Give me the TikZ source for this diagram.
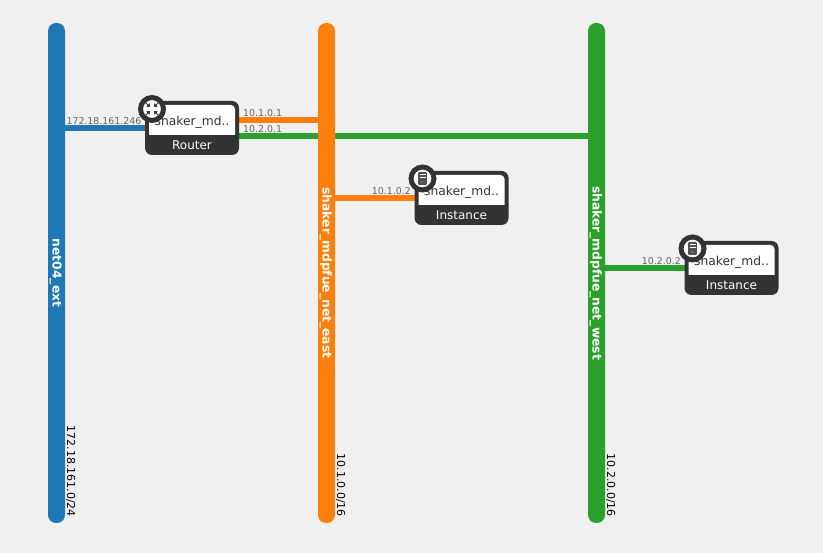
\documentclass[tikz,border=0pt]{standalone}
\usepackage{fontspec}
\setmainfont{DejaVu Sans}
\usetikzlibrary{backgrounds,arrows.meta}
\definecolor{netblue}{HTML}{1F77B4}
\definecolor{netorange}{HTML}{FF7F0E}
\definecolor{netgreen}{HTML}{2CA02C}
\definecolor{carddark}{HTML}{333333}
\definecolor{pagegray}{HTML}{F0F0F0}
\definecolor{iptext}{HTML}{666666}
\tikzset{
	netbar/.style={rounded corners=8pt,minimum width=17pt,minimum height=500pt,inner sep=0pt},
	netname/.style={rotate=-90,text=white,inner sep=0pt,font=\fontsize{12.3}{13}\selectfont\bfseries},
	cidr/.style={rotate=-90,anchor=south east,inner sep=0pt,font=\fontsize{11}{12}\selectfont,text=black},
	link/.style={line width=6pt},
	iplabel/.style={inner sep=0pt,font=\fontsize{9.4}{10}\selectfont,text=iptext},
	card/.style={fill=carddark,rounded corners=7pt,minimum width=94pt,minimum height=54pt,inner sep=0pt,
		path picture={\fill[white] ([xshift=4pt,yshift=20pt]path picture bounding box.south west) [rounded corners=4pt] |- ([xshift=-4pt,yshift=-4pt]path picture bounding box.north east) [sharp corners] |- cycle;}},
	cardname/.style={inner sep=0pt,font=\fontsize{12.3}{13}\selectfont,text=carddark},
	cardtype/.style={inner sep=0pt,font=\fontsize{12}{13}\selectfont,text=white},
	badge/.style={circle,draw=carddark,line width=5pt,fill=white,minimum size=23pt,inner sep=0pt},
}
\begin{document}
\begin{tikzpicture}[x=1pt,y=-1pt]

	\node[netbar,fill=netblue] (ext) at (56.5,273) {};
	\node[netbar,fill=netorange] (east) at (326.5,273) {};
	\node[netbar,fill=netgreen] (west) at (596.5,273) {};
	\node[netname] (extname) at (55.8,273) {net04\_ext};
	\node[netname] (eastname) at (325.8,273) {shaker\_mdpfue\_net\_east};
	\node[netname] (westname) at (595.8,273) {shaker\_mdpfue\_net\_west};
	\node[cidr] (extcidr) at (66,517) {172.18.161.0/24};
	\node[cidr] (eastcidr) at (336,517) {10.1.0.0/16};
	\node[cidr] (westcidr) at (606,517) {10.2.0.0/16};

	% router
	\node[card] (router) at (192,128) {};
	\node[cardname] (routername) at (192,122) {shaker\_md..};
	\node[cardtype] (routertype) at (192,145.5) {Router};
	\node[badge] (routerbadge) at (152,109) {};
	\foreach \sx/\sy in {1/1,1/-1,-1/1,-1/-1}
		\draw[carddark,line width=1pt,-{Triangle[length=3pt,width=4.5pt]}] (152+\sx*6.5,109+\sy*6.5) -- (152+\sx*2,109+\sy*2);

	% instances
	\node[card] (vmeast) at (461.5,198) {};
	\node[cardname] (vmeastname) at (461.5,192) {shaker\_md..};
	\node[cardtype] (vmeasttype) at (461.5,215.5) {Instance};
	\node[badge] (vmeastbadge) at (422.5,178.5) {};
	\node[card] (vmwest) at (731.5,268) {};
	\node[cardname] (vmwestname) at (731.5,262) {shaker\_md..};
	\node[cardtype] (vmwesttype) at (731.5,285.5) {Instance};
	\node[badge] (vmwestbadge) at (692.5,248.5) {};
	\foreach \bx/\by in {422.5/178.5,692.5/248.5} {
		\fill[carddark!85,rounded corners=1pt] (\bx-4.3,\by-6.5) rectangle (\bx+4.3,\by+6.5);
		\fill[white] (\bx-3,\by-4.5) rectangle (\bx+3,\by-3.5);
		\fill[white] (\bx-3,\by-1.5) rectangle (\bx+3,\by-0.5);
		\fill[netgreen] (\bx-1.2,\by+2.5) rectangle (\bx+0.8,\by+4.5);
	}

	\node[iplabel,anchor=east] (extip) at (141.5,121) {172.18.161.246};
	\node[iplabel,anchor=west] (eastgw) at (243,113.5) {10.1.0.1};
	\node[iplabel,anchor=west] (westgw) at (243,129.5) {10.2.0.1};
	\node[iplabel,anchor=east] (eastip) at (411,191) {10.1.0.2};
	\node[iplabel,anchor=east] (westip) at (681,261) {10.2.0.2};

	\begin{scope}[on background layer]
		\fill[pagegray,use as bounding box] (0,0) rectangle (823,553);
		\draw[link,netblue] (ext.center |- router.center) -- (router.center);
		\draw[link,netorange] (router.center |- 0,120) -- (east.center |- 0,120);
		\draw[link,netgreen] (router.center |- 0,136) -- (west.center |- 0,136);
		\draw[link,netorange] (east.center |- vmeast.center) -- (vmeast.center);
		\draw[link,netgreen] (west.center |- vmwest.center) -- (vmwest.center);
	\end{scope}

\end{tikzpicture}
\end{document}
